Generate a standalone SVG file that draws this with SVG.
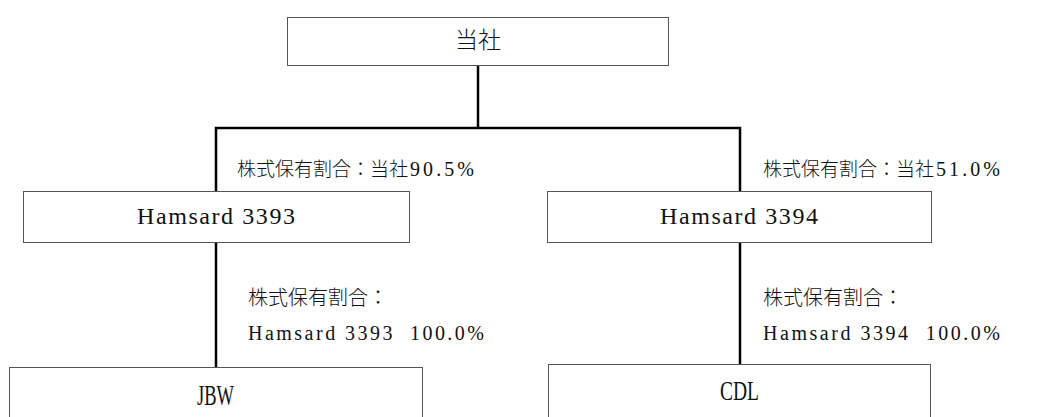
<svg xmlns="http://www.w3.org/2000/svg" width="1043" height="417" viewBox="0 0 1043 417">
<style>
.box{fill:#fff;stroke:#555;stroke-width:1}
.conn{fill:none;stroke:#000;stroke-width:2.5}
.cjk{font-family:"Noto Sans CJK JP","Noto Sans CJK SC",sans-serif;font-weight:300;fill:#111}
.lat{font-family:"Liberation Serif","DejaVu Serif",serif;fill:#111}
</style>
<rect width="1043" height="417" fill="#fff"/>
<g id="connectors">
<path class="conn" d="M478,66 V128"/>
<path class="conn" d="M216,191 V128 H740 V191"/>
<path class="conn" d="M216,242 V367"/>
<path class="conn" d="M740,242 V364"/>
</g>
<g id="node-tousha">
<rect class="box" x="287.5" y="17.5" width="381" height="48"/>
<text class="cjk" x="478" y="48" font-size="23" text-anchor="middle">当社</text>
</g>
<g id="node-h3393">
<rect class="box" x="23.5" y="191.5" width="386" height="51"/>
<text class="lat" x="137" y="224" font-size="24" textLength="158" lengthAdjust="spacing">Hamsard 3393</text>
</g>
<g id="node-h3394">
<rect class="box" x="547.5" y="191.5" width="384" height="51"/>
<text class="lat" x="660" y="224" font-size="24" textLength="158" lengthAdjust="spacing">Hamsard 3394</text>
</g>
<g id="node-jbw">
<rect class="box" x="9.5" y="367.5" width="413" height="60"/>
<text class="lat" x="197" y="405" font-size="29" textLength="37" lengthAdjust="spacingAndGlyphs">JBW</text>
</g>
<g id="node-cdl">
<rect class="box" x="548.5" y="364.5" width="382" height="60"/>
<text class="lat" x="720" y="400" font-size="28" textLength="39" lengthAdjust="spacingAndGlyphs">CDL</text>
</g>
<g id="labels">
<text class="cjk" x="237" y="176" font-size="19">株式保有割合：当社</text>
<text class="lat" x="410" y="176" font-size="20" textLength="64" lengthAdjust="spacing">90.5%</text>
<text class="cjk" x="763" y="176" font-size="19">株式保有割合：当社</text>
<text class="lat" x="936" y="176" font-size="20" textLength="64" lengthAdjust="spacing">51.0%</text>
<text class="cjk" x="248" y="305" font-size="20">株式保有割合：</text>
<text class="lat" x="248" y="340" font-size="20" textLength="236" lengthAdjust="spacing" xml:space="preserve">Hamsard 3393  100.0%</text>
<text class="cjk" x="763" y="305" font-size="20">株式保有割合：</text>
<text class="lat" x="763" y="340" font-size="20" textLength="237" lengthAdjust="spacing" xml:space="preserve">Hamsard 3394  100.0%</text>
</g>
</svg>
